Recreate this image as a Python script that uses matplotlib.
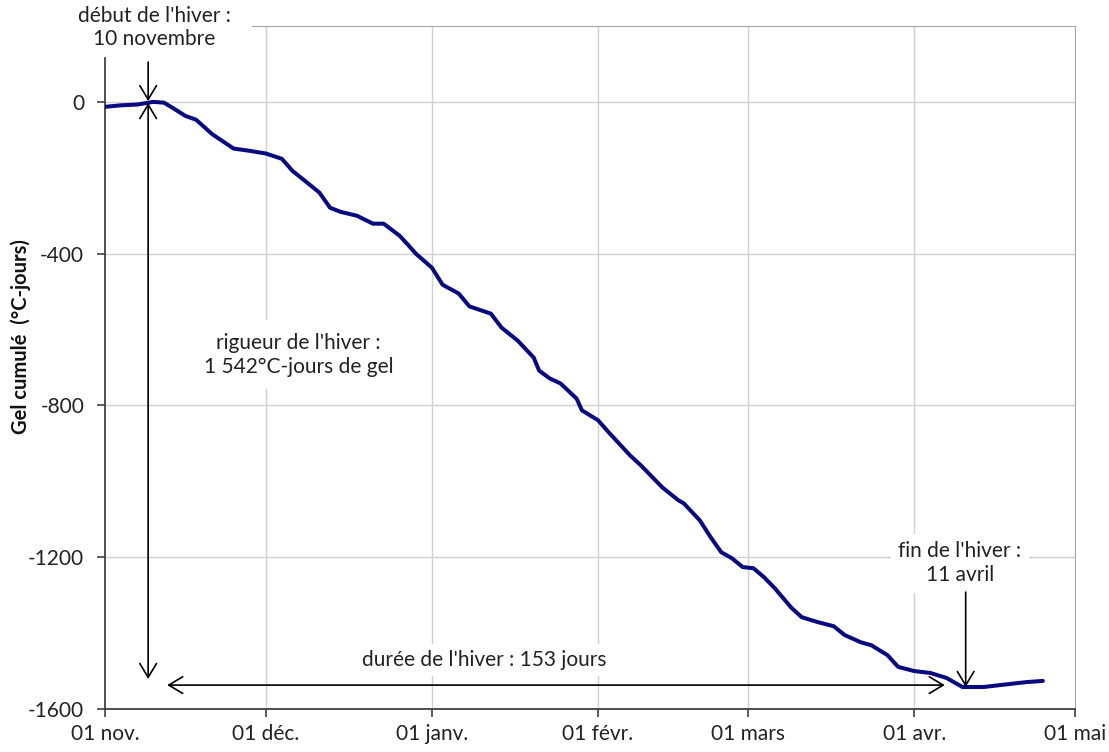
import numpy as np
import pandas as pd
import matplotlib
matplotlib.use('Agg')
import matplotlib.pyplot as plt
import matplotlib.dates as mdates

plt.rcParams['font.family'] = ['Lato', 'DejaVu Sans']

# jours depuis le 01 nov. et gel cumulé (°C-jours)
debut = pd.Timestamp('2014-11-01')
jours = [0, 3, 6, 9, 11, 13, 15, 17, 20, 24, 27, 30, 33, 35, 38, 40, 42, 44, 47, 50,
         52, 55, 57, 58, 61, 63, 66, 68, 72, 74, 77, 80, 81, 83, 85, 88, 89, 92, 94, 98,
         100, 104, 107, 108, 111, 113, 115, 117, 119, 121, 123, 125, 128, 130, 133, 136,
         138, 141, 143, 146, 148, 151, 154, 157, 160, 164, 167, 172, 175]
gel = [-13, -9, -7, 0, -2, -19, -37, -47, -85, -123, -129, -136, -150, -182, -216, -239,
       -279, -290, -300, -321, -321, -353, -384, -400, -437, -482, -505, -539, -558, -595,
       -629, -674, -708, -729, -742, -782, -813, -839, -871, -932, -958, -1016, -1050,
       -1058, -1103, -1147, -1187, -1203, -1226, -1229, -1253, -1282, -1332, -1358,
       -1371, -1382, -1405, -1424, -1432, -1458, -1489, -1500, -1505, -1518, -1542,
       -1542, -1537, -1529, -1526]

mois = pd.date_range('2014-11-01', '2015-05-01', freq='MS')
mois_labels = ['01 nov.', '01 déc.', '01 janv.', '01 févr.', '01 mars', '01 avr.', '01 mai']
yticks = [0, -400, -800, -1200, -1600]

dates = [debut + pd.Timedelta(days=j) for j in jours]


def xd(j):
    # position en x d'un jour (fractionnaire) depuis le 01 nov.
    return mdates.date2num(debut) + j


fig = plt.figure(figsize=(11.09, 7.52), dpi=100)
ax = fig.add_axes([105 / 1109, 43 / 752, 970 / 1109, 683 / 752])

ax.plot(mdates.date2num(dates), gel, color='#0a0a80', lw=2.9, zorder=3,
        solid_capstyle='round', solid_joinstyle='round')

ax.set_xlim(mdates.date2num(mois[0]), mdates.date2num(mois[-1]))
ax.set_ylim(-1600, 200)
ax.set_xticks(mdates.date2num(mois))
ax.set_xticklabels(mois_labels)
ax.set_yticks(yticks)
ax.set_yticklabels([str(v) for v in yticks])
ax.tick_params(axis='both', direction='out', length=6, width=1.2, color='#404040',
               labelsize=15, labelcolor='#222222')
ax.tick_params(axis='x', pad=5)
ax.tick_params(axis='y', pad=9)

for m in mois[1:-1]:
    ax.axvline(mdates.date2num(m), color='#d0d0d0', lw=1, zorder=1)
for v in yticks[:-1]:
    ax.axhline(v, color='#d0d0d0', lw=1, zorder=1)

ax.spines['left'].set_color('#404040')
ax.spines['bottom'].set_color('#404040')
ax.spines['left'].set_linewidth(1.3)
ax.spines['bottom'].set_linewidth(1.3)
ax.spines['top'].set_color('#a6a6a6')
ax.spines['right'].set_color('#a6a6a6')
ax.spines['left'].set_bounds(-1600, 116)
ax.spines['top'].set_bounds(xd(27.5), mdates.date2num(mois[-1]))

ax.set_ylabel('Gel cumulé  (°C-jours)', fontsize=14.5, fontweight='bold', color='#111111')
ax.yaxis.set_label_coords(-0.076, 0.546)

fleche = dict(arrowstyle='->,head_length=0.5,head_width=0.3', lw=1.2, color='black',
              shrinkA=0, shrinkB=0, mutation_scale=20)
double = dict(arrowstyle='<->,head_length=0.5,head_width=0.3', lw=1.2, color='black',
              shrinkA=0, shrinkB=0, mutation_scale=20)

# début de l'hiver
ax.annotate('', xy=(xd(8.05), 2), xytext=(xd(8.05), 105), arrowprops=fleche,
            annotation_clip=False, zorder=6)
ax.text(xd(9.2), 195, "début de l'hiver :\n10 novembre", ha='center', va='center',
        fontsize=15, color='#222222', linespacing=1.2, zorder=6, clip_on=False)

# rigueur
ax.annotate('', xy=(xd(8.05), -1521), xytext=(xd(8.05), -3), arrowprops=double, zorder=6)
ax.text(xd(36.1), -666, "rigueur de l'hiver :\n1 542°C-jours de gel", ha='center',
        va='center', fontsize=15, color='#222222', linespacing=1.25, zorder=5,
        bbox=dict(boxstyle='square,pad=0.6', fc='white', ec='none'))

# durée
ax.text(xd(70.7), -1471, "durée de l'hiver : 153 jours", ha='center', va='center',
        fontsize=15, color='#222222', zorder=5,
        bbox=dict(boxstyle='square,pad=0.3', fc='white', ec='none'))
ax.annotate('', xy=(xd(156.7), -1537), xytext=(xd(11.6), -1537), arrowprops=double, zorder=6)

# fin de l'hiver
ax.text(xd(159.5), -1216, "fin de l'hiver :\n11 avril", ha='center', va='center',
        fontsize=15, color='#222222', linespacing=1.25, zorder=5,
        bbox=dict(boxstyle='square,pad=0.35', fc='white', ec='none'))
ax.annotate('', xy=(xd(160.6), -1542), xytext=(xd(160.6), -1292), arrowprops=fleche, zorder=6)

fig.savefig('out.png', dpi=100)
